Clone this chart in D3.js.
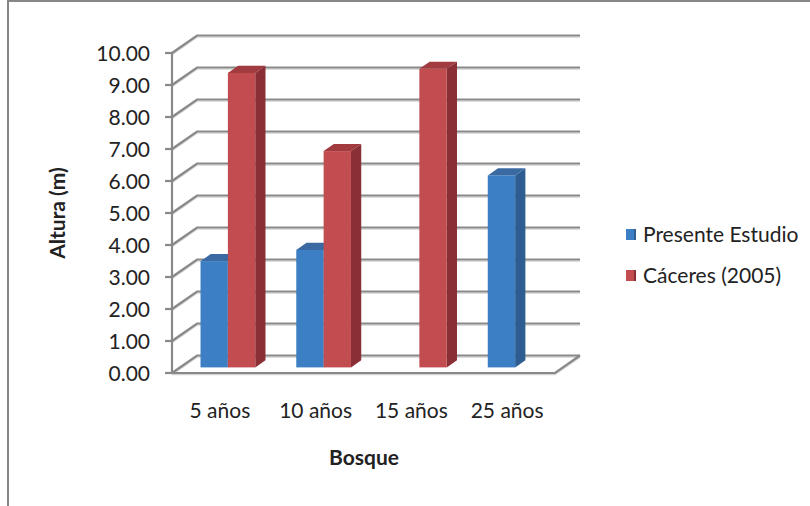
<!DOCTYPE html>
<html><head><meta charset="utf-8">
<script src="https://cdn.jsdelivr.net/npm/d3@7"></script>
<style>body{margin:0;background:#fff}svg{display:block}text{font-family:Lato,"Open Sans",sans-serif;fill:#222}</style>
</head><body><svg id="c" width="810" height="506"></svg>
<script>
const categories = ["5 años","10 años","15 años","25 años"];
const seriesNames = ["Presente Estudio","Cáceres (2005)"];
const presente = [3.32, 3.67, null, 6.0];
const caceres = [9.2, 6.76, 9.33, null];
const yTicks = [0,1,2,3,4,5,6,7,8,9,10];
const yTitle = "Altura (m)";
const xTitle = "Bosque";

const colors = {
  "Presente Estudio": {front:"#3c7fc4", side:"#2e5d92", top:"#3b69a2"},
  "Cáceres (2005)": {front:"#c24d51", side:"#8a2f35", top:"#a13b3f"}
};

const svg = d3.select("#c");
svg.append("rect").attr("width",810).attr("height",506).attr("fill","#fff");
svg.append("path").attr("d","M8,506V1H810").attr("fill","none").attr("stroke","#878787").attr("stroke-width",2);

const left=172, right=555, D={x:25,y:-17.5};
const y = d3.scaleLinear().domain([0,10]).range([373,53]);
const x = d3.scaleBand().domain(categories).range([left,right]);
const bw = x.bandwidth()/3.5;
const x1 = d3.scaleBand().domain(seriesNames).range([0,bw*2]);
const f0=0.32, f1=0.73;

const g = svg.append("g");
// gridlines (left wall + back wall) with shadow
yTicks.forEach(t=>{
  const yf=y(t), yb=y(t)+D.y;
  const d=`M${left},${yf}L${left+D.x},${yb}L${right+D.x},${yb}`;
  g.append("path").attr("d",d).attr("transform","translate(0,1.6)").attr("fill","none").attr("stroke","#d2d2d2").attr("stroke-width",1.4);
  g.append("path").attr("d",d).attr("fill","none").attr("stroke","#898989").attr("stroke-width",2.2);
});
// floor front + right edge
const fl=`M${left},${y(0)}L${right},${y(0)}L${right+D.x},${y(0)+D.y}`;
g.append("path").attr("d",fl).attr("transform","translate(0,1.6)").attr("fill","none").attr("stroke","#d2d2d2").attr("stroke-width",1.4);
g.append("path").attr("d",fl).attr("fill","none").attr("stroke","#898989").attr("stroke-width",2.2);
// axis line + ticks
g.append("path").attr("d",`M${left},${y(10)}V${y(0)}`).attr("stroke","#898989").attr("stroke-width",2.2);
yTicks.forEach(t=>{
  g.append("path").attr("d",`M${left-7},${y(t)}H${left}`).attr("stroke","#898989").attr("stroke-width",2.2);
  svg.append("text").attr("x",150).attr("y",y(t)).attr("dy","0.36em").attr("text-anchor","end")
    .attr("font-size",21).text(t.toFixed(2));
});

// bars
const data = [presente, caceres];
const bars = svg.append("g");
categories.forEach((c,i)=>{
  const gx = x(c) + (x.bandwidth()-bw*2)/2;
  seriesNames.forEach((s,k)=>{
    const v = data[k][i];
    if (v==null) return;
    const col = colors[s];
    const x0 = gx + x1(s) + D.x*f0, w = x1.bandwidth();
    const yt = y(v) + D.y*f0, yb = y(0) + D.y*f0;
    const dx = D.x*(f1-f0), dy = D.y*(f1-f0);
    bars.append("path").attr("fill",col.side)
      .attr("d",`M${x0+w},${yt}L${x0+w+dx},${yt+dy}L${x0+w+dx},${yb+dy}L${x0+w},${yb}Z`);
    bars.append("path").attr("fill",col.top)
      .attr("d",`M${x0},${yt}L${x0+w},${yt}L${x0+w+dx},${yt+dy}L${x0+dx},${yt+dy}Z`);
    bars.append("rect").attr("x",x0).attr("y",yt).attr("width",w).attr("height",yb-yt).attr("fill",col.front);
  });
  svg.append("text").attr("x",x(c)+x.bandwidth()/2).attr("y",418).attr("text-anchor","middle")
    .attr("font-size",21).text(c);
});

// titles
svg.append("text").attr("transform","translate(65,213) rotate(-90)").attr("text-anchor","middle")
  .attr("font-size",21).attr("font-weight","bold").text(yTitle);
svg.append("text").attr("x",364).attr("y",465).attr("text-anchor","middle")
  .attr("font-size",21).attr("font-weight","bold").text(xTitle);

// legend
seriesNames.forEach((s,k)=>{
  const ly = 229 + k*41;
  svg.append("rect").attr("x",626).attr("y",ly).attr("width",10).attr("height",11).attr("fill",colors[s].front);
  svg.append("rect").attr("x",634).attr("y",ly).attr("width",2).attr("height",11).attr("fill",colors[s].side);
  svg.append("text").attr("x",643).attr("y",ly+13).attr("font-size",21).text(s);
});
</script></body></html>
